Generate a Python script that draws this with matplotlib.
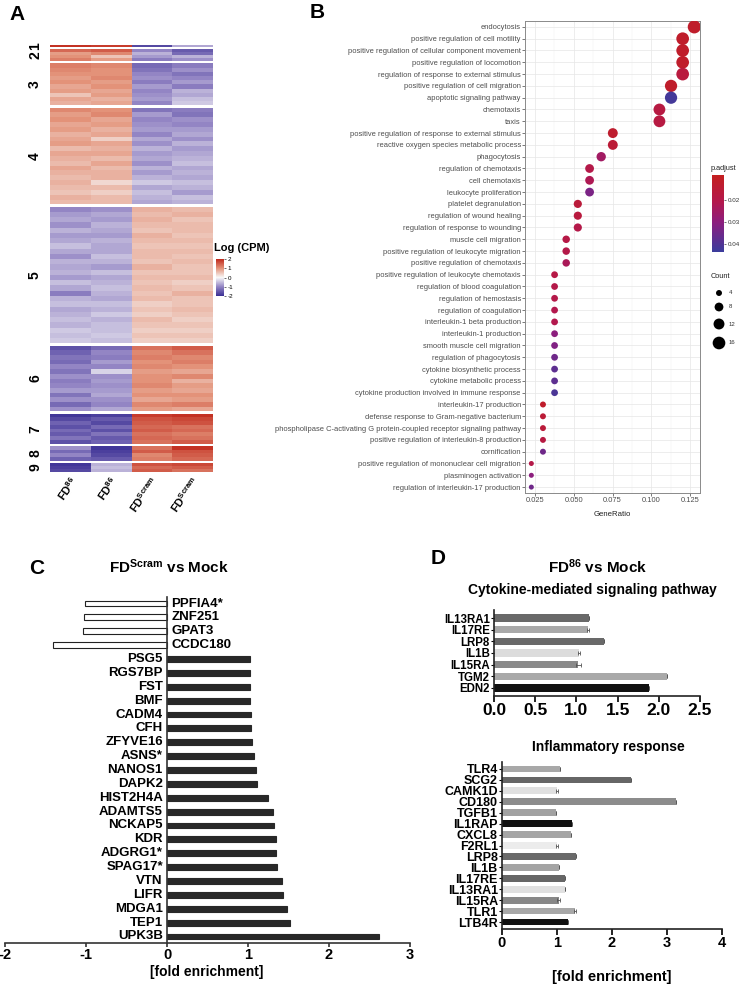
import numpy as np
import matplotlib
matplotlib.use('Agg')
import matplotlib.pyplot as plt
from matplotlib.colors import LinearSegmentedColormap, Normalize
from matplotlib.cm import ScalarMappable

plt.rcParams['font.family'] = ['Liberation Sans', 'DejaVu Sans']
plt.rcParams['mathtext.fontset'] = 'custom'
plt.rcParams['mathtext.rm'] = 'Liberation Sans'
plt.rcParams['mathtext.bf'] = 'Liberation Sans:bold'
plt.rcParams['mathtext.it'] = 'Liberation Sans:italic'
plt.rcParams['axes.unicode_minus'] = False

# ---------------- data: panel A (heatmap, log CPM z-scores) ----------------
heat_samples = [r'$\mathbf{FD^{86}}$', r'$\mathbf{FD^{86}}$',
                r'$\mathbf{FD^{Scram}}$', r'$\mathbf{FD^{Scram}}$']
cluster_names = ['1', '2', '3', '4', '5', '6', '7', '8', '9']
cluster_genes = [2, 12, 42, 97, 137, 66, 30, 15, 9]

c1 = [[1.9, 1.8, -1.7, -0.7]]
c2 = [[1.4, 1.5, -1.0, -1.5],
      [0.9, 1.1, -0.6, -1.3],
      [1.0, 0.5, -0.8, -0.6],
      [1.2, 0.9, -1.1, -0.9]]
c3 = [[1.2, 1.1, -1.3, -1.1],
      [1.1, 1.0, -1.2, -0.9],
      [1.0, 1.0, -1.0, -1.2],
      [0.9, 1.1, -0.9, -1.0],
      [1.0, 0.9, -1.1, -0.8],
      [0.8, 1.0, -0.8, -1.1],
      [0.9, 0.8, -1.0, -0.6],
      [0.5, 0.9, -0.9, -0.7],
      [0.8, 0.7, -0.8, -0.5],
      [0.7, 0.8, -1.0, -0.4]]
c4 = [[1.1, 1.0, -1.2, -1.1],
      [0.9, 1.1, -0.8, -1.2],
      [1.0, 0.8, -1.0, -0.9],
      [0.8, 0.9, -0.9, -1.0],
      [0.9, 0.7, -0.8, -0.8],
      [0.7, 0.8, -1.0, -0.7],
      [0.8, 0.4, -0.7, -0.9],
      [0.9, 0.8, -0.9, -0.6],
      [0.6, 0.7, -0.6, -0.8],
      [0.8, 0.8, -0.8, -0.7],
      [0.7, 0.6, -0.7, -0.6],
      [0.6, 0.8, -0.9, -0.5],
      [0.8, 0.6, -0.6, -0.7],
      [0.7, 0.7, -0.8, -0.6],
      [0.6, 0.7, -0.6, -0.7],
      [0.7, 0.3, -0.4, -0.5],
      [0.6, 0.6, -0.7, -0.6],
      [0.5, 0.4, -0.5, -0.8],
      [0.7, 0.6, -0.6, -0.5],
      [0.6, 0.6, -0.7, -0.6]]
c5 = [[-1.0, -0.9, 0.7, 0.6],
      [-0.8, -0.7, 0.6, 0.7],
      [-0.7, -0.8, 0.7, 0.5],
      [-0.9, -0.6, 0.6, 0.6],
      [-0.6, -0.7, 0.5, 0.6],
      [-0.8, -0.8, 0.7, 0.5],
      [-0.7, -0.6, 0.6, 0.6],
      [-0.5, -0.7, 0.5, 0.5],
      [-0.7, -0.7, 0.6, 0.6],
      [-0.9, -0.5, 0.6, 0.5],
      [-0.6, -0.6, 0.5, 0.6],
      [-0.7, -0.8, 0.7, 0.5],
      [-0.6, -0.5, 0.5, 0.5],
      [-0.8, -0.7, 0.6, 0.6],
      [-0.5, -0.6, 0.5, 0.4],
      [-0.7, -0.5, 0.6, 0.5],
      [-1.1, -0.6, 0.5, 0.7],
      [-0.6, -0.7, 0.6, 0.5],
      [-0.5, -0.5, 0.4, 0.5],
      [-0.7, -0.6, 0.5, 0.6],
      [-0.6, -0.4, 0.4, 0.5],
      [-0.5, -0.6, 0.6, 0.4],
      [-0.6, -0.5, 0.5, 0.5],
      [-0.4, -0.5, 0.4, 0.4],
      [-0.5, -0.4, 0.5, 0.5],
      [-0.4, -0.5, 0.4, 0.4]]
c6 = [[-1.6, -1.3, 1.3, 1.5],
      [-1.4, -1.0, 1.1, 1.3],
      [-1.2, -1.1, 1.2, 1.1],
      [-1.3, -0.8, 1.0, 1.2],
      [-1.0, -1.0, 1.1, 1.0],
      [-1.2, -0.3, 0.9, 0.8],
      [-0.9, -0.9, 1.0, 1.1],
      [-1.1, -0.8, 1.0, 0.7],
      [-1.0, -0.9, 1.1, 0.9],
      [-0.8, -0.8, 0.9, 0.8],
      [-1.2, -0.7, 1.0, 1.0],
      [-0.9, -0.9, 0.8, 0.9],
      [-1.3, -1.0, 1.1, 1.2],
      [-0.9, -0.7, 0.9, 0.8]]
c7 = [[-1.9, -1.8, 1.8, 1.9],
      [-1.7, -1.5, 1.6, 1.7],
      [-1.4, -1.7, 1.5, 1.6],
      [-1.6, -1.3, 1.4, 1.3],
      [-1.3, -1.6, 1.5, 1.4],
      [-1.5, -1.2, 1.3, 1.2],
      [-1.2, -1.5, 1.4, 1.3],
      [-1.6, -1.4, 1.3, 1.5]]
c8 = [[-0.9, -1.9, 1.3, 1.9],
      [-1.3, -1.8, 1.5, 1.6],
      [-1.0, -1.7, 1.1, 1.5],
      [-1.4, -1.5, 1.2, 1.4]]
c9 = [[-1.9, -0.6, 1.6, 1.7],
      [-1.8, -0.5, 1.4, 1.5],
      [-1.7, -0.6, 1.5, 1.3]]
heat_clusters = [c1, c2, c3, c4, c5, c6, c7, c8, c9]

# ---------------- data: panel B (GO enrichment) ----------------
go_terms = ['endocytosis', 'positive regulation of cell motility',
            'positive regulation of cellular component movement',
            'positive regulation of locomotion',
            'regulation of response to external stimulus',
            'positive regulation of cell migration', 'apoptotic signaling pathway',
            'chemotaxis', 'taxis', 'positive regulation of response to external stimulus',
            'reactive oxygen species metabolic process', 'phagocytosis',
            'regulation of chemotaxis', 'cell chemotaxis', 'leukocyte proliferation',
            'platelet degranulation', 'regulation of wound healing',
            'regulation of response to wounding', 'muscle cell migration',
            'positive regulation of leukocyte migration',
            'positive regulation of chemotaxis',
            'positive regulation of leukocyte chemotaxis',
            'regulation of blood coagulation', 'regulation of hemostasis',
            'regulation of coagulation', 'interleukin-1 beta production',
            'interleukin-1 production', 'smooth muscle cell migration',
            'regulation of phagocytosis', 'cytokine biosynthetic process',
            'cytokine metabolic process',
            'cytokine production involved in immune response',
            'interleukin-17 production',
            'defense response to Gram-negative bacterium',
            'phospholipase C-activating G protein-coupled receptor signaling pathway',
            'positive regulation of interleukin-8 production', 'cornification',
            'positive regulation of mononuclear cell migration',
            'plasminogen activation', 'regulation of interleukin-17 production']
go_count = [17, 16, 16, 16, 16, 15, 15, 14, 14, 10, 10, 9, 8, 8, 8, 7, 7, 7, 6, 6, 6,
            5, 5, 5, 5, 5, 5, 5, 5, 5, 5, 5, 4, 4, 4, 4, 4, 3, 3, 3]
go_ratio = [0.1278, 0.1203, 0.1203, 0.1203, 0.1203, 0.1128, 0.1128, 0.1053, 0.1053,
            0.0752, 0.0752, 0.0677, 0.0602, 0.0602, 0.0602, 0.0526, 0.0526, 0.0526,
            0.0451, 0.0451, 0.0451, 0.0376, 0.0376, 0.0376, 0.0376, 0.0376, 0.0376,
            0.0376, 0.0376, 0.0376, 0.0376, 0.0376, 0.0301, 0.0301, 0.0301, 0.0301,
            0.0301, 0.0226, 0.0226, 0.0226]
go_padj = [0.012, 0.012, 0.012, 0.012, 0.017, 0.012, 0.042, 0.018, 0.018, 0.013,
           0.015, 0.025, 0.020, 0.022, 0.033, 0.016, 0.017, 0.020, 0.019, 0.020,
           0.023, 0.019, 0.020, 0.020, 0.021, 0.021, 0.030, 0.032, 0.035, 0.038,
           0.038, 0.041, 0.012, 0.015, 0.016, 0.018, 0.035, 0.020, 0.030, 0.035]
count_breaks = [4, 8, 12, 16]

# ---------------- data: panel C ----------------
c_genes = ['PPFIA4*', 'ZNF251', 'GPAT3', 'CCDC180', 'PSG5', 'RGS7BP', 'FST', 'BMF',
           'CADM4', 'CFH', 'ZFYVE16', 'ASNS*', 'NANOS1', 'DAPK2', 'HIST2H4A',
           'ADAMTS5', 'NCKAP5', 'KDR', 'ADGRG1*', 'SPAG17*', 'VTN', 'LIFR', 'MDGA1',
           'TEP1', 'UPK3B']
c_fold = [-1.01, -1.03, -1.04, -1.41, 1.02, 1.02, 1.03, 1.03, 1.04, 1.04, 1.05, 1.07,
          1.10, 1.11, 1.25, 1.31, 1.32, 1.35, 1.35, 1.36, 1.42, 1.43, 1.48, 1.52, 2.62]

# ---------------- data: panel D ----------------
d1_genes = ['IL13RA1', 'IL17RE', 'LRP8', 'IL1B', 'IL15RA', 'TGM2', 'EDN2']
d1_fold = [1.15, 1.14, 1.34, 1.03, 1.02, 2.10, 1.88]
d1_err = [0.0, 0.01, 0.0, 0.01, 0.03, 0.0, 0.0]
d1_colors = ['#696969', '#a9a9a9', '#696969', '#dcdcdc', '#8a8a8a', '#a9a9a9', '#111111']

d2_genes = ['TLR4', 'SCG2', 'CAMK1D', 'CD180', 'TGFB1', 'IL1RAP', 'CXCL8', 'F2RL1',
            'LRP8', 'IL1B', 'IL17RE', 'IL13RA1', 'IL15RA', 'TLR1', 'LTB4R']
d2_fold = [1.06, 2.35, 1.00, 3.16, 0.99, 1.27, 1.26, 1.00, 1.35, 1.03, 1.14, 1.15,
           1.03, 1.32, 1.20]
d2_err = [0.0, 0.0, 0.01, 0.0, 0.0, 0.0, 0.0, 0.01, 0.0, 0.0, 0.0, 0.0, 0.03, 0.02, 0.0]
d2_colors = ['#a8a8a8', '#666666', '#e0e0e0', '#8c8c8c', '#a2a2a2', '#111111',
             '#a5a5a5', '#ececec', '#6a6a6a', '#a4a4a4', '#666666', '#e0e0e0',
             '#888888', '#a8a8a8', '#111111']

W, H = 747, 984
fig = plt.figure(figsize=(W / 100, H / 100), dpi=100)


def box(x0, y0, x1, y1):
    return [x0 / W, 1 - y1 / H, (x1 - x0) / W, (y1 - y0) / H]


# overlay axes in pixel coordinates for free text
ov = fig.add_axes([0, 0, 1, 1], zorder=5)
ov.set_xlim(0, W)
ov.set_ylim(H, 0)
ov.axis('off')
ov.patch.set_alpha(0)

# =============== Panel A ===============
heat_cmap = LinearSegmentedColormap.from_list(
    'heat', [(0, '#3a2f94'), (0.25, '#9385c4'), (0.5, '#f7f7f7'),
             (0.75, '#e3937a'), (1, '#c0281b')])
axA = fig.add_axes(box(50, 45, 213, 472))
gap = 2.2
scale = (427 - gap * (len(cluster_genes) - 1)) / sum(cluster_genes)
y0 = 0
for k, rows in enumerate(heat_clusters):
    h = cluster_genes[k] * scale
    edges = np.linspace(y0, y0 + h, len(rows) + 1)
    axA.pcolormesh(np.arange(5), edges, np.array(rows), cmap=heat_cmap, vmin=-2, vmax=2)
    ov.text(35, 45 + y0 + h / 2, cluster_names[k], rotation=90, ha='center', va='center',
            fontsize=10, fontweight='bold')
    y0 += h + gap
axA.set_xlim(0, 4)
axA.set_ylim(427, 0)
axA.axis('off')

for i, lab in enumerate(heat_samples):
    xc = 50 + 163 * (i + 0.5) / 4 + 4
    ov.text(xc, 478, lab, rotation=55, rotation_mode='anchor', ha='right', va='center',
            fontsize=8)

caxA = fig.add_axes(box(216, 259, 224, 296))
cbA = fig.colorbar(ScalarMappable(Normalize(-2, 2), heat_cmap), cax=caxA)
cbA.set_ticks([-2, -1, 0, 1, 2])
cbA.outline.set_visible(False)
caxA.tick_params(labelsize=4.5, length=1.5, width=0.4, pad=1)
ov.text(214, 248, 'Log (CPM)', fontsize=8, fontweight='bold', ha='left', va='center')

# =============== Panel B ===============
padj_cmap = LinearSegmentedColormap.from_list(
    'padj', [(0, '#c41f1f'), (0.35, '#b3184d'), (0.62, '#8b1e7f'), (1, '#3b3c9c')])
padj_norm = Normalize(0.0087, 0.0436)


def dot_size(cnt):
    return 13 + (np.asarray(cnt) - 3) * 5.4


axB = fig.add_axes(box(525, 21, 700, 493))
yB = np.arange(len(go_terms))[::-1]
axB.scatter(go_ratio, yB, s=dot_size(go_count), c=go_padj, cmap=padj_cmap,
            norm=padj_norm, edgecolors='none', zorder=3)
axB.set_xlim(0.0185, 0.1315)
axB.set_ylim(-0.5, len(go_terms) - 0.5)
axB.set_xticks([0.025, 0.050, 0.075, 0.100, 0.125])
axB.set_xticklabels(['0.025', '0.050', '0.075', '0.100', '0.125'])
axB.set_xticks([0.0375, 0.0625, 0.0875, 0.1125], minor=True)
axB.set_yticks(yB)
axB.set_yticklabels(go_terms)
axB.grid(True, which='major', color='#e6e6e6', lw=0.5, zorder=0)
axB.grid(True, which='minor', axis='x', color='#f1f1f1', lw=0.35, zorder=0)
axB.set_axisbelow(True)
axB.tick_params(axis='both', which='major', labelsize=5.4, labelcolor='#4d4d4d',
                length=2, width=0.5, color='#444444', pad=1)
axB.tick_params(which='minor', length=0)
for sp in axB.spines.values():
    sp.set_color('#8a8a8a')
    sp.set_linewidth(0.7)
ov.text(612, 514, 'GeneRatio', fontsize=5.6, ha='center', va='center', color='#222222')

caxB = fig.add_axes(box(712, 175, 724, 252))
cbB = fig.colorbar(ScalarMappable(padj_norm, padj_cmap), cax=caxB)
cbB.set_ticks([0.02, 0.03, 0.04])
cbB.set_ticklabels(['0.02', '0.03', '0.04'])
cbB.outline.set_visible(False)
caxB.invert_yaxis()
caxB.tick_params(labelsize=4.5, length=1.5, width=0.4, pad=1.5, labelcolor='#333333')
ov.text(711, 168, 'p.adjust', fontsize=5.3, ha='left', va='center', color='#222222')

ov.text(711, 276, 'Count', fontsize=5.3, ha='left', va='center', color='#222222')
legend_y = [293, 307, 324, 343]
ov.scatter([719] * len(count_breaks), legend_y, s=dot_size(count_breaks), color='black',
           edgecolors='none')
for cb, ly in zip(count_breaks, legend_y):
    ov.text(729, ly, str(cb), fontsize=4.3, ha='left', va='center', color='#333333')

# panel letters
ov.text(17, 15, 'A', fontsize=15, fontweight='bold', ha='center', va='center')
ov.text(317, 13, 'B', fontsize=15, fontweight='bold', ha='center', va='center')
ov.text(37, 568, 'C', fontsize=15, fontweight='bold', ha='center', va='center')
ov.text(438, 558, 'D', fontsize=15, fontweight='bold', ha='center', va='center')

# =============== Panel C ===============
axC = fig.add_axes(box(5, 597, 410, 943))
yC = np.arange(len(c_genes))[::-1]
c_face = ['white' if v < 0 else '#282828' for v in c_fold]
c_edge = ['#222222' if v < 0 else '#282828' for v in c_fold]
axC.barh(yC, c_fold, height=0.42, color=c_face, edgecolor=c_edge, linewidth=0.8)
axC.set_xlim(-2, 3)
axC.set_ylim(-0.47, len(c_genes) - 0.53)
axC.spines['left'].set_position(('data', 0))
axC.spines['right'].set_visible(False)
axC.spines['top'].set_visible(False)
for sp in ['left', 'bottom']:
    axC.spines[sp].set_linewidth(1.2)
    axC.spines[sp].set_color('#333333')
axC.set_yticks([])
axC.set_xticks([-2, -1, 0, 1, 2, 3])
axC.tick_params(axis='x', labelsize=10.5, length=3, width=1.2, color='#333333', pad=0.5)
for t in axC.get_xticklabels():
    t.set_fontweight('bold')
for g, v, yy in zip(c_genes, c_fold, yC):
    if v < 0:
        axC.annotate(g, (0, yy), xytext=(3, 0), textcoords='offset points', ha='left',
                     va='center', fontsize=9.5, fontweight='bold')
    else:
        axC.annotate(g, (0, yy), xytext=(-3, 0), textcoords='offset points', ha='right',
                     va='center', fontsize=9.5, fontweight='bold')
ov.text(169, 567, r'$\mathbf{FD^{Scram}}$ vs Mock', fontsize=11, fontweight='bold',
        ha='center', va='center')
ov.text(207, 972, '[fold enrichment]', fontsize=10, fontweight='bold', ha='center',
        va='center')

# =============== Panel D ===============
ov.text(598, 567, r'$\mathbf{FD^{86}}$ vs Mock', fontsize=11, fontweight='bold',
        ha='center', va='center')
ov.text(592, 590, 'Cytokine-mediated signaling pathway', fontsize=10, fontweight='bold',
        ha='center', va='center')
ov.text(608, 747, 'Inflammatory response', fontsize=10, fontweight='bold', ha='center',
        va='center')
ov.text(612, 977, '[fold enrichment]', fontsize=10.5, fontweight='bold', ha='center',
        va='center')


def prism_bars(ax, genes, vals, errs, cols, xmax, xstep, pad_frac, lab_fs, tick_fs, fmt):
    yy = np.arange(len(genes))[::-1]
    ax.barh(yy, vals, height=0.62, color=cols, edgecolor='none')
    ax.errorbar(vals, yy, xerr=errs, fmt='none', ecolor='#555555', elinewidth=0.6,
                capsize=1.2, capthick=0.6)
    ax.set_xlim(0, xmax)
    ax.set_ylim(-pad_frac, len(genes) - 1 + pad_frac)
    ax.set_xticks(np.arange(0, xmax + 1e-9, xstep))
    ax.set_xticklabels([fmt.format(v) for v in np.arange(0, xmax + 1e-9, xstep)])
    ax.set_yticks(yy)
    ax.set_yticklabels(genes)
    for sp in ['right', 'top']:
        ax.spines[sp].set_visible(False)
    for sp in ['left', 'bottom']:
        ax.spines[sp].set_linewidth(1.2)
        ax.spines[sp].set_color('#222222')
    ax.tick_params(axis='y', labelsize=lab_fs, length=2.5, width=0.8, pad=0.5)
    ax.tick_params(axis='x', labelsize=tick_fs, length=4, width=1.2, pad=1)
    for t in ax.get_xticklabels() + ax.get_yticklabels():
        t.set_fontweight('bold')


axD1 = fig.add_axes(box(494, 610, 700, 696))
prism_bars(axD1, d1_genes, d1_fold, d1_err, d1_colors, 2.5, 0.5, 0.69, 8.3, 12.5, '{:.1f}')
axD2 = fig.add_axes(box(502, 762, 722, 929))
prism_bars(axD2, d2_genes, d2_fold, d2_err, d2_colors, 4, 1, 0.64, 9, 10.5, '{:.0f}')

fig.savefig('out.png', dpi=100)
